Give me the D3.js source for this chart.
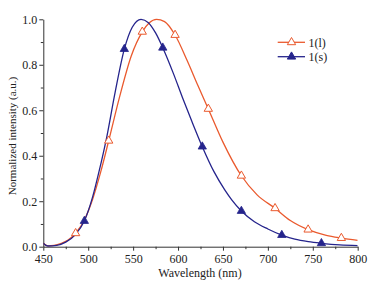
<!DOCTYPE html>
<html>
<head>
<meta charset="utf-8">
<script src="https://cdn.jsdelivr.net/npm/d3@7"></script>
<style>
  html, body { margin: 0; padding: 0; background: #fff; }
  svg { display: block; }
  text { font-family: "Liberation Serif", "DejaVu Serif", serif; fill: #222; }
</style>
</head>
<body>
<svg id="chart" width="371" height="281"></svg>
<script>
// ---- data ----
const seriesNames = ["1(l)", "1(s)"];
// curve samples: wavelength (nm) and normalized intensity
const wlL = [450, 455, 462, 470, 478, 486, 496, 505, 514, 522.8, 535, 548, 560.2, 568, 576, 585, 596.7, 610, 622, 633.7, 650, 670.5, 688, 708, 725, 744.8, 765, 781.8, 800];
const valL = [0.015, 0.004, 0.006, 0.015, 0.03, 0.059, 0.12, 0.21, 0.33, 0.466, 0.66, 0.84, 0.945, 0.985, 1.0, 0.99, 0.931, 0.82, 0.71, 0.606, 0.46, 0.312, 0.228, 0.169, 0.115, 0.075, 0.05, 0.038, 0.028];
const wlS = [450, 455, 465, 475, 485, 495.7, 505, 512, 520, 530, 540.2, 549, 558.8, 567, 575, 583, 595, 605, 615, 627, 640, 652, 660, 670.5, 685, 700, 715.5, 730, 745, 759.6, 780, 800];
const valS = [0.015, 0.003, 0.006, 0.02, 0.05, 0.113, 0.22, 0.33, 0.47, 0.68, 0.869, 0.965, 1.0, 0.985, 0.94, 0.875, 0.76, 0.655, 0.555, 0.44, 0.33, 0.25, 0.205, 0.157, 0.11, 0.078, 0.051, 0.033, 0.022, 0.015, 0.008, 0.005];
// marker positions
const mkWlL = [486, 522.8, 560.2, 596.7, 633.7, 670.5, 708, 744.8, 781.8];
const mkValL = [0.059, 0.466, 0.945, 0.931, 0.606, 0.312, 0.169, 0.075, 0.038];
const mkWlS = [495.7, 540.2, 583, 627, 670.5, 715.5, 759.6];
const mkValS = [0.113, 0.869, 0.875, 0.44, 0.157, 0.051, 0.015];
// ticks
const xTicks = [450, 500, 550, 600, 650, 700, 750, 800];
const xMinor = [475, 525, 575, 625, 675, 725, 775];
const yTicks = [0.0, 0.2, 0.4, 0.6, 0.8, 1.0];
const yMinor = [0.1, 0.3, 0.5, 0.7, 0.9];
const xTitle = "Wavelength (nm)";
const yTitle = "Normalized intensity (a.u.)";

// ---- drawing ----
const colL = "#ea5a2e", colS = "#25248c", axisCol = "#333";
const serif = "Liberation Serif";
const svg = d3.select("#chart");
const x = d3.scaleLinear().domain([450, 800]).range([43.3, 357.7]);
const y = d3.scaleLinear().domain([0, 1]).range([246.7, 19.3]);

// axes
const gx = svg.append("g").attr("transform", `translate(0,${y(0)})`)
  .call(d3.axisBottom(x).tickValues(xTicks).tickFormat(d3.format("d")).tickSize(4).tickSizeOuter(0))
  .attr("font-family", serif).attr("font-size", 12);
svg.append("g").attr("transform", `translate(0,${y(0)})`)
  .call(d3.axisBottom(x).tickValues(xMinor).tickFormat("").tickSize(2.5).tickSizeOuter(0))
  .select(".domain").remove();
const gy = svg.append("g").attr("transform", `translate(${x(450)},0)`)
  .call(d3.axisLeft(y).tickValues(yTicks).tickFormat(d3.format(".1f")).tickSize(4).tickSizeOuter(0))
  .attr("font-family", serif).attr("font-size", 12);
svg.append("g").attr("transform", `translate(${x(450)},0)`)
  .call(d3.axisLeft(y).tickValues(yMinor).tickFormat("").tickSize(2.5).tickSizeOuter(0))
  .select(".domain").remove();
svg.selectAll(".domain, .tick line").attr("stroke", axisCol).attr("stroke-width", 1);
gx.selectAll("text").style("font-family", serif).style("font-size", "12px").attr("fill", "#222").attr("dy", "0.78em");
gy.selectAll("text").style("font-family", serif).style("font-size", "12px").attr("fill", "#222").attr("x", -6);

svg.append("text").attr("x", 200).attr("y", 277).attr("text-anchor", "middle")
  .style("font-family", serif).style("font-size", "12px").text(xTitle);
svg.append("text").attr("transform", "translate(16,136) rotate(-90)").attr("text-anchor", "middle")
  .style("font-family", serif).style("font-size", "11px").text(yTitle);

// clip
svg.append("clipPath").attr("id", "clip").append("rect")
  .attr("x", x(450)).attr("y", 0).attr("width", x(800) - x(450)).attr("height", y(0) + 1);

const line = d3.line().x(d => x(d[0])).y(d => y(d[1])).curve(d3.curveMonotoneX);
const dataL = wlL.map((w, i) => [w, valL[i]]);
const dataS = wlS.map((w, i) => [w, valS[i]]);
const plot = svg.append("g").attr("clip-path", "url(#clip)");
plot.append("path").datum(dataL).attr("d", line).attr("fill", "none").attr("stroke", colL).attr("stroke-width", 1.3);
plot.append("path").datum(dataS).attr("d", line).attr("fill", "none").attr("stroke", colS).attr("stroke-width", 1.3);

const tri = d3.symbol().type(d3.symbolTriangle).size(30);
svg.append("g").selectAll("path").data(mkWlL.map((w, i) => [w, mkValL[i]])).join("path")
  .attr("d", tri).attr("transform", d => `translate(${x(d[0])},${y(d[1])})`)
  .attr("fill", "#fff").attr("stroke", colL).attr("stroke-width", 1);
svg.append("g").selectAll("path").data(mkWlS.map((w, i) => [w, mkValS[i]])).join("path")
  .attr("d", tri).attr("transform", d => `translate(${x(d[0])},${y(d[1])})`)
  .attr("fill", colS).attr("stroke", colS).attr("stroke-width", 0.8);

// legend
const leg = svg.append("g");
[[seriesNames[0], colL, "#fff", 42.3], [seriesNames[1], colS, colS, 56.7]].forEach(([name, c, f, ly]) => {
  leg.append("line").attr("x1", 277.7).attr("x2", 305).attr("y1", ly).attr("y2", ly).attr("stroke", c).attr("stroke-width", 1.3);
  leg.append("path").attr("d", tri).attr("transform", `translate(291.5,${ly})`).attr("fill", f).attr("stroke", c).attr("stroke-width", 1);
  leg.append("text").attr("x", 308.5).attr("y", ly).attr("dy", "0.35em")
    .style("font-family", serif).style("font-size", "12px").text(name);
});
</script>
</body>
</html>
